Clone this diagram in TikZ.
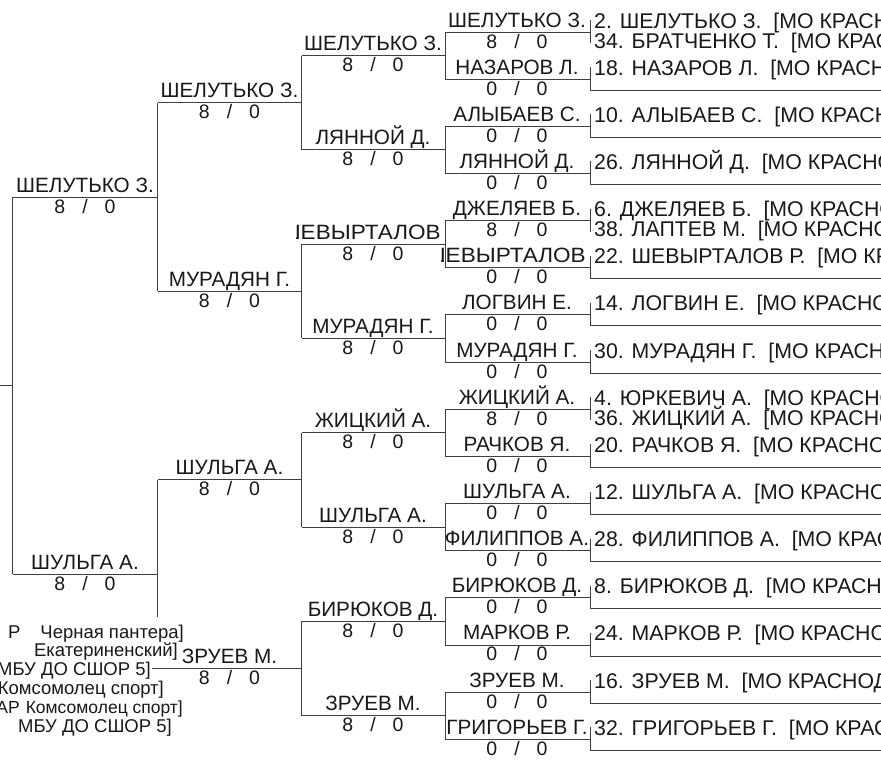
\documentclass[tikz,border=0pt]{standalone}
\usepackage{fontspec}
\setmainfont{Liberation Sans}
\newlength\restw
\newcommand\scr[2]{#1\hspace{17pt}/\hspace{17pt}#2}
\newcommand\shev{\scalebox{1.09}[1]{ШЕВЫРТАЛОВ}}
\begin{document}
\settowidth\restw{\fontsize{20.7}{24}\selectfont ЕВЫРТАЛОВ}%
\begin{tikzpicture}[x=1pt,y=-1pt,
  ln/.style={draw=black!75,line width=0.9pt},
  nm/.style={anchor=base,inner sep=0pt,font=\fontsize{20.7}{24}\selectfont,text=black!90},
  sc/.style={anchor=base,inner sep=0pt,font=\fontsize{19.5}{24}\selectfont,text=black!90},
  ent/.style={anchor=base west,inner sep=0pt,font=\fontsize{21.3}{24}\selectfont,text=black!90},
  club/.style={anchor=base east,inner sep=0pt,font=\fontsize{18.5}{22}\selectfont,text=black!90}]
\useasboundingbox (0,0) rectangle (881,761);
\fill[white] (0,0) rectangle (881,761);
\clip (0,0) rectangle (881,761);
\def\xa{12.5}\def\xb{157.5}\def\xc{301.5}\def\xd{445}\def\xe{590}
\def\ey#1{32+47.15*(#1)}
% ---------- column E (round of 32) ----------
\foreach \i/\nm/\s in {0/ШЕЛУТЬКО З./8,1/НАЗАРОВ Л./0,2/АЛЫБАЕВ С./0,3/ЛЯННОЙ Д./0,
  4/ДЖЕЛЯЕВ Б./8,6/ЛОГВИН Е./0,7/МУРАДЯН Г./0,8/ЖИЦКИЙ А./8,9/РАЧКОВ Я./0,
  10/ШУЛЬГА А./0,11/ФИЛИППОВ А./0,12/БИРЮКОВ Д./0,13/МАРКОВ Р./0,14/ЗРУЕВ М./0,15/ГРИГОРЬЕВ Г./0}{
  \pgfmathsetmacro\y{\ey{\i}}
  \draw[ln] (\xd,\y) -- (\xe,\y);
  \node[nm] (e\i) at (517,\y-5) {\nm};
  \node[sc] (es\i) at (517,\y+16) {\scr{\s}{0}};
}
\pgfmathsetmacro\y{\ey{5}}
\draw[ln] (\xd,\y) -- (\xe,\y);
\node[sc] (es5) at (517,\y+16) {\scr{0}{0}};
\begin{scope}
  \pgfmathsetmacro\cx{586-1.09*\restw-4}
  \clip (\cx,\y-25) rectangle (\xe,\y+2);
  \node[nm,anchor=base east] (e5) at (586,\y-5) {\shev};
\end{scope}
% verticals of column E
\foreach \k in {0,...,7}{
  \draw[ln] (\xd,{\ey{2*\k}}) -- (\xd,{\ey{2*\k+1}});
}
% ---------- column F (entries) ----------
\foreach \i/\t in {0/2. ШЕЛУТЬКО З.,1/18. НАЗАРОВ Л.,2/10. АЛЫБАЕВ С.,3/26. ЛЯННОЙ Д.,
  4/6. ДЖЕЛЯЕВ Б.,5/22. ШЕВЫРТАЛОВ Р.,6/14. ЛОГВИН Е.,7/30. МУРАДЯН Г.,
  8/4. ЮРКЕВИЧ А.,9/20. РАЧКОВ Я.,10/12. ШУЛЬГА А.,11/28. ФИЛИППОВ А.,
  12/8. БИРЮКОВ Д.,13/24. МАРКОВ Р.,14/16. ЗРУЕВ М.,15/32. ГРИГОРЬЕВ Г.}{
  \pgfmathsetmacro\y{\ey{\i}}
  \draw[ln] (\xe,\y-12) -- (\xe,\y+11);
  \node[ent] (f\i) at (594,\y-4) {\t\ \ [МО КРАСНОДАР};
}
\foreach \i/\t in {0/34. БРАТЧЕНКО Т.,4/38. ЛАПТЕВ М.,8/36. ЖИЦКИЙ А.}{
  \pgfmathsetmacro\y{\ey{\i}}
  \node[ent] (g\i) at (594,\y+16) {\t\ \ [МО КРАСНОДАР};
}
\foreach \i in {1,2,3,5,6,7,9,10,11,12,13,14,15}{
  \pgfmathsetmacro\y{\ey{\i}}
  \draw[ln] (\xe,\y+11) -- (881,\y+11);
}
% ---------- column D ----------
\foreach \j/\nm in {0/ШЕЛУТЬКО З.,1/ЛЯННОЙ Д.,3/МУРАДЯН Г.,4/ЖИЦКИЙ А.,
  5/ШУЛЬГА А.,6/БИРЮКОВ Д.,7/ЗРУЕВ М.}{
  \pgfmathsetmacro\y{\ey{2*\j+0.5}}
  \draw[ln] (\xc,\y) -- (\xd,\y);
  \node[nm] (d\j) at (373,\y-5) {\nm};
  \node[sc] (ds\j) at (373,\y+16) {\scr{8}{0}};
}
\pgfmathsetmacro\y{\ey{4.5}}
\draw[ln] (\xc,\y) -- (\xd,\y);
\node[sc] (ds2) at (373,\y+16) {\scr{8}{0}};
\begin{scope}
  \pgfmathsetmacro\cx{441-1.09*\restw-4}
  \clip (\cx,\y-25) rectangle (\xd,\y+2);
  \node[nm,anchor=base east] (d2) at (441,\y-5) {\shev};
\end{scope}
\foreach \m in {0,...,3}{
  \draw[ln] (\xc,{\ey{4*\m+0.5}}) -- (\xc,{\ey{4*\m+2.5}});
}
% ---------- column C ----------
\foreach \k/\nm in {0/ШЕЛУТЬКО З.,1/МУРАДЯН Г.,2/ШУЛЬГА А.,3/ЗРУЕВ М.}{
  \pgfmathsetmacro\y{\ey{4*\k+1.5}}
  \node[nm] (c\k) at (229.5,\y-5) {\nm};
  \node[sc] (cs\k) at (229.5,\y+16) {\scr{8}{0}};
}
\foreach \k in {0,1,2}{
  \draw[ln] (\xb,{\ey{4*\k+1.5}}) -- (\xc,{\ey{4*\k+1.5}});
}
\draw[ln] (152,{\ey{13.5}}) -- (\xc,{\ey{13.5}});
\draw[ln] (\xb,{\ey{1.5}}) -- (\xb,{\ey{5.5}});
\draw[ln] (\xb,{\ey{9.5}}) -- (\xb,617);
% ---------- column B ----------
\foreach \m/\nm in {0/ШЕЛУТЬКО З.,1/ШУЛЬГА А.}{
  \pgfmathsetmacro\y{\ey{8*\m+3.5}}
  \draw[ln] (\xa,\y) -- (\xb,\y);
  \node[nm] (b\m) at (85,\y-5) {\nm};
  \node[sc] (bs\m) at (85,\y+16) {\scr{8}{0}};
}
\draw[ln] (\xa,{\ey{3.5}}) -- (\xa,{\ey{11.5}});
% ---------- column A ----------
\coordinate (aend) at (0,{\ey{7.5}});
\draw[ln] (aend) -- (\xa,{\ey{7.5}});
% ---------- club names (bottom left) ----------
\node[club] (cl1) at (184,638) {Р\hspace{20pt}Черная пантера]};
\node[club] (cl2) at (178,656) {Екатериненский]};
\node[club] (cl3) at (151,675) {МБУ ДО СШОР 5]};
\node[club] (cl4) at (164,694) {Комсомолец спорт]};
\node[club,font=\fontsize{17.5}{22}\selectfont] (cl5) at (183,713) {АР\hspace{6pt}Комсомолец спорт]};
\node[club] (cl6) at (172,732) {МБУ ДО СШОР 5]};
\end{tikzpicture}
\end{document}
